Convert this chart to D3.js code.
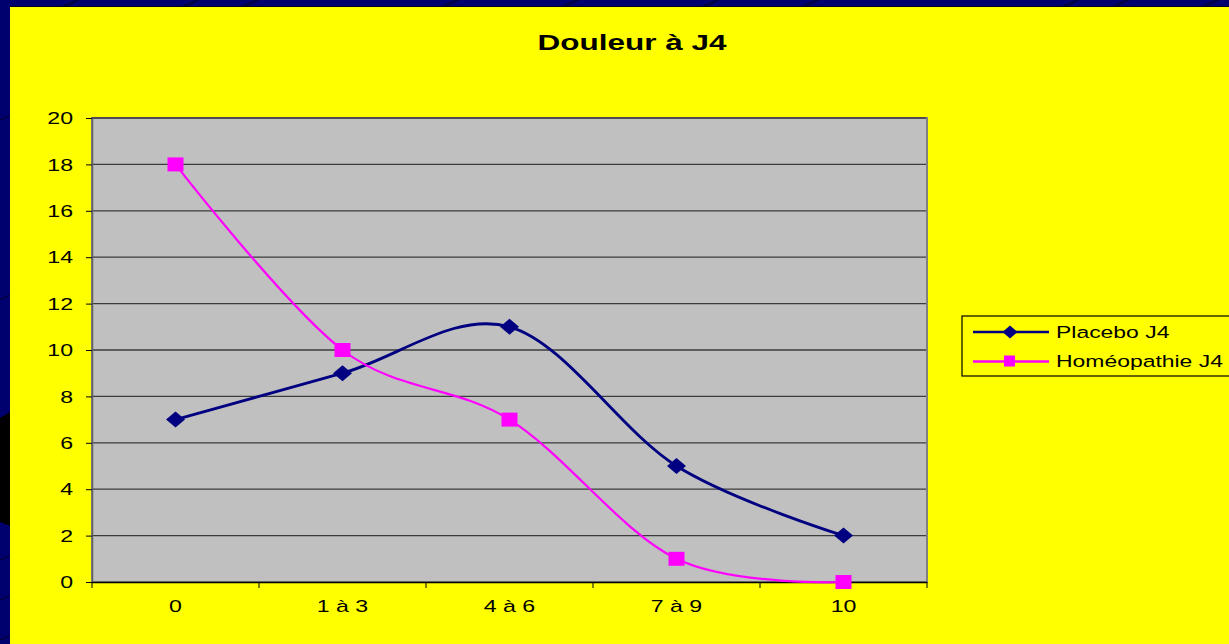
<!DOCTYPE html>
<html><head><meta charset="utf-8">
<script src="https://cdn.jsdelivr.net/npm/d3@7"></script>
<style>html,body{margin:0;padding:0;background:#000066;overflow:hidden}svg{display:block;font-family:"Liberation Sans",Arial,sans-serif}</style>
</head><body><svg id="c" width="1229" height="644"></svg>
<script>
const categories = ["0", "1 à 3", "4 à 6", "7 à 9", "10"];
const placebo = [7, 9, 11, 5, 2];
const homeo = [18, 10, 7, 1, 0];
const yTicks = [0, 2, 4, 6, 8, 10, 12, 14, 16, 18, 20];
const seriesNames = ["Placebo J4", "Homéopathie J4"];
const title = "Douleur à J4";

(function(){
const SX = 1.36; // horizontal text stretch seen in reference
const svg = d3.select("#c");
svg.append("rect").attr("width",1229).attr("height",644).attr("fill","#00006e");
const diag = [60,180,240,440,560,700,800,1060,1110,1200];
diag.forEach(x=>svg.append("line").attr("x1",x).attr("y1",8).attr("x2",x+40).attr("y2",-10).attr("stroke","#000040").attr("stroke-width",2));
[120,300,560,600,640].forEach(y=>svg.append("line").attr("x1",0).attr("y1",y).attr("x2",12).attr("y2",y-6).attr("stroke","#000040").attr("stroke-width",1.5));
svg.append("path").attr("d","M0,418 L10,412 L10,526 L0,522 Z").attr("fill","#000000");
svg.append("rect").attr("x",10).attr("y",6).attr("width",1219).attr("height",1.5).attr("fill","#000020");
svg.append("rect").attr("x",10).attr("y",7).attr("width",1219).attr("height",637).attr("fill","#ffff00");

const pL=92, pR=927, pT=118, pB=582;
const x = d3.scaleBand().domain(categories).range([pL,pR]);
const y = d3.scaleLinear().domain([0,20]).range([pB,pT]);

svg.append("rect").attr("x",pL).attr("y",pT).attr("width",pR-pL).attr("height",pB-pT)
  .attr("fill","#c0c0c0").attr("stroke","#808080").attr("stroke-width",2);

svg.append("g").selectAll("line").data(yTicks.filter(d=>d>0)).join("line")
  .attr("x1",pL).attr("x2",pR-1).attr("y1",d=>y(d)).attr("y2",d=>y(d))
  .attr("stroke","#3c3c3c").attr("stroke-width",1.3);

const yAxis = svg.append("g").attr("transform",`translate(${pL},0)`)
  .call(d3.axisLeft(y).tickValues(yTicks).tickSize(6).tickPadding(8));
const xAxis = svg.append("g").attr("transform",`translate(0,${pB})`)
  .call(d3.axisBottom(x).tickSize(0).tickPadding(18));
const bounds = categories.map(c=>x(c)).concat([pR]);
svg.append("g").selectAll("line").data(bounds).join("line")
  .attr("x1",d=>d).attr("x2",d=>d).attr("y1",pB).attr("y2",pB+6)
  .attr("stroke","#000").attr("stroke-width",1);
[yAxis,xAxis].forEach(g=>{
  g.selectAll("text").attr("font-size",17).attr("fill","#000").attr("font-family","Liberation Sans, Arial, sans-serif");
  g.selectAll("path.domain").attr("stroke","#000").attr("stroke-width",1.5);
  g.selectAll(".tick line").attr("stroke","#000");
});
yAxis.selectAll(".tick text").attr("x",-19/SX).attr("dy","0.34em").attr("transform",`scale(${SX},1)`);
xAxis.selectAll(".tick text").attr("y",null).attr("dy",null).attr("transform",`translate(0,30) scale(${SX},1)`);
xAxis.select("path.domain").attr("d",`M${pL},0.5H${pR}`);
yAxis.select("path.domain").attr("stroke","#606060").attr("d",`M0.5,${pT}V${pB}`);

const cx = c=>x(c)+x.bandwidth()/2;
const line = d3.line().curve(d3.curveCatmullRom.alpha(0)).x((d,i)=>cx(categories[i])).y(d=>y(d));

svg.append("path").datum(placebo).attr("d",line).attr("fill","none").attr("stroke","#000080").attr("stroke-width",2.8);
svg.append("path").datum(homeo).attr("d",line).attr("fill","none").attr("stroke","#ff00ff").attr("stroke-width",2.2);

const diamond = (w,h)=>`M0,${-h}L${w},0L0,${h}L${-w},0Z`;
svg.append("g").selectAll("path").data(placebo).join("path")
  .attr("d",diamond(9.5,8))
  .attr("transform",(d,i)=>`translate(${cx(categories[i])},${y(d)})`)
  .attr("fill","#000080");
svg.append("g").selectAll("rect").data(homeo).join("rect")
  .attr("x",(d,i)=>cx(categories[i])-8).attr("y",d=>y(d)-7).attr("width",16).attr("height",14)
  .attr("fill","#ff00ff");

svg.append("text").attr("transform",`translate(632,50) scale(1.4,1)`).attr("text-anchor","middle")
  .attr("font-size",22.5).attr("font-weight","bold").text(title);

const lg = svg.append("g");
lg.append("rect").attr("x",962).attr("y",316).attr("width",280).attr("height",60)
  .attr("fill","none").attr("stroke","#000").attr("stroke-width",1.2);
const lcolors=["#000080","#ff00ff"];
seriesNames.forEach((n,i)=>{
  const yy = 332 + i*29.5;
  lg.append("line").attr("x1",973).attr("x2",1049).attr("y1",yy).attr("y2",yy).attr("stroke",lcolors[i]).attr("stroke-width",2.5);
  if(i===0) lg.append("path").attr("d",diamond(7.5,6.5)).attr("transform",`translate(1010,${yy})`).attr("fill",lcolors[i]);
  else lg.append("rect").attr("x",1004).attr("y",yy-6).attr("width",11).attr("height",11).attr("fill",lcolors[i]);
  lg.append("text").attr("transform",`translate(1056,${yy+5.5}) scale(1.39,1)`).attr("font-size",16.5).text(n);
});
})();
</script></body></html>
